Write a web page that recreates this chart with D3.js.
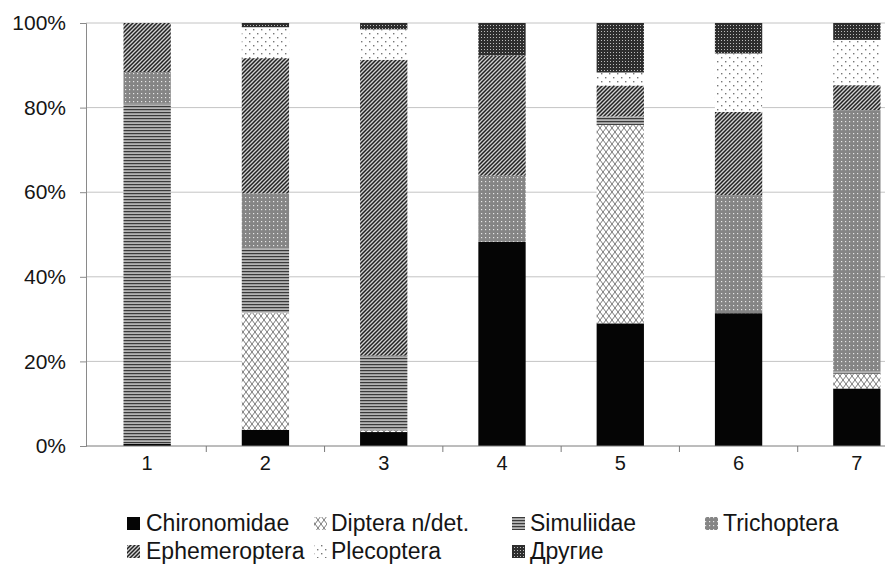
<!DOCTYPE html>
<html>
<head>
<meta charset="utf-8">
<script src="https://cdn.jsdelivr.net/npm/d3@7"></script>
<style>
  html, body { margin: 0; padding: 0; background: #fff; }
  svg { display: block; font-family: "Liberation Sans", Arial, sans-serif; }
</style>
</head>
<body>
<svg id="chart" width="885" height="569"></svg>
<script>
const categories = ["1", "2", "3", "4", "5", "6", "7"];
const seriesNames = ["Chironomidae", "Diptera n/det.", "Simuliidae", "Trichoptera", "Ephemeroptera", "Plecoptera", "Другие"];
const chironomidae  = [0.5, 3.8, 3.3, 48.3, 29.0, 31.4, 13.6];
const dipteraNdet   = [0, 27.7, 0.4, 0, 46.9, 0, 3.5];
const simuliidae    = [80.4, 15.2, 17.7, 0, 2.0, 0, 0.5];
const trichoptera   = [7.5, 13.0, 0, 15.6, 0, 27.9, 61.8];
const ephemeroptera = [11.6, 32.0, 69.9, 28.4, 7.3, 19.7, 5.9];
const plecoptera    = [0, 7.3, 7.2, 0, 3.1, 13.8, 10.7];
const drugie        = [0, 1.0, 1.5, 7.7, 11.7, 7.2, 4.0];
const yTicks = [0, 20, 40, 60, 80, 100];

const seriesValues = [chironomidae, dipteraNdet, simuliidae, trichoptera, ephemeroptera, plecoptera, drugie];
const table = categories.map((c, i) => {
  const row = { cat: c };
  seriesNames.forEach((s, j) => row[s] = seriesValues[j][i]);
  return row;
});

const svg = d3.select("#chart");
const defs = svg.append("defs");

// --- patterns ---
function pat(id, w, h, build) {
  const p = defs.append("pattern").attr("id", id).attr("patternUnits", "userSpaceOnUse")
    .attr("width", w).attr("height", h);
  build(p);
}
pat("p-chir", 4, 4, p => p.append("rect").attr("width", 4).attr("height", 4).attr("fill", "#050505"));
pat("p-dipt", 6, 8, p => {
  p.append("rect").attr("width", 6).attr("height", 8).attr("fill", "#fff");
  p.append("path").attr("d", "M0,0 L6,8 M6,0 L0,8").attr("stroke", "#7a7a7a").attr("stroke-width", 1).attr("fill", "none");
});
pat("p-simu", 4, 3, p => {
  p.append("rect").attr("width", 4).attr("height", 3).attr("fill", "#b4b4b4");
  p.append("rect").attr("y", 1).attr("width", 4).attr("height", 1.2).attr("fill", "#3a3a3a");
});
pat("p-tric", 4, 4, p => {
  p.append("rect").attr("width", 4).attr("height", 4).attr("fill", "#858585");
  p.append("rect").attr("x", 1).attr("y", 1).attr("width", 1.2).attr("height", 1.2).attr("fill", "#e6e6e6");
});
pat("p-ephe", 4, 4, p => {
  p.append("rect").attr("width", 4).attr("height", 4).attr("fill", "#d0d0d0");
  p.append("path").attr("d", "M-1,1 L1,-1 M0,4 L4,0 M3,5 L5,3").attr("stroke", "#222").attr("stroke-width", 1.5);
});
pat("p-plec", 8, 8, p => {
  p.append("rect").attr("width", 8).attr("height", 8).attr("fill", "#fff");
  p.append("rect").attr("x", 1).attr("y", 1).attr("width", 1.4).attr("height", 1.4).attr("fill", "#777");
  p.append("rect").attr("x", 5).attr("y", 5).attr("width", 1.4).attr("height", 1.4).attr("fill", "#777");
});
pat("p-drug", 3, 3, p => {
  p.append("rect").attr("width", 3).attr("height", 3).attr("fill", "#2e2e2e");
  p.append("rect").attr("x", 1).attr("y", 1).attr("width", 1).attr("height", 1).attr("fill", "#bdbdbd");
});
const fills = ["url(#p-chir)", "url(#p-dipt)", "url(#p-simu)", "url(#p-tric)", "url(#p-ephe)", "url(#p-plec)", "url(#p-drug)"];

// --- scales ---
const x = d3.scaleBand().domain(categories).range([88, 916]).paddingInner(0.6).paddingOuter(0.3);
const y = d3.scaleLinear().domain([0, 100]).range([446, 23]);

// grid
svg.append("g").selectAll("line").data(yTicks.filter(t => t > 0)).join("line")
  .attr("x1", 86).attr("x2", 885).attr("y1", d => y(d)).attr("y2", d => y(d))
  .attr("stroke", "#c4c4c4").attr("stroke-width", 1);

// bars
const stack = d3.stack().keys(seriesNames)(table);
svg.append("g").selectAll("g").data(stack).join("g")
  .attr("fill", (d, i) => fills[i])
  .selectAll("rect").data(d => d).join("rect")
  .attr("x", d => x(d.data.cat))
  .attr("width", x.bandwidth())
  .attr("y", d => y(d[1]))
  .attr("height", d => Math.max(0, y(d[0]) - y(d[1])));

// y axis
const yAxis = d3.axisLeft(y).tickValues(yTicks).tickFormat(d => d + "%").tickSize(6).tickPadding(14);
const gy = svg.append("g").attr("transform", "translate(86,0)").call(yAxis);
gy.select(".domain").attr("stroke", "#8a8a8a");
gy.selectAll(".tick line").attr("stroke", "#8a8a8a");
gy.selectAll(".tick text").attr("font-size", 21).attr("fill", "#151515")
  .attr("font-family", "Liberation Sans, Arial, sans-serif");

// x axis
const xAxis = d3.axisBottom(x).tickSize(0).tickPadding(10);
const gx = svg.append("g").attr("transform", "translate(0,446)").call(xAxis);
gx.select(".domain").remove();
gx.selectAll(".tick text").attr("font-size", 20).attr("fill", "#151515")
  .attr("font-family", "Liberation Sans, Arial, sans-serif");
svg.append("line").attr("x1", 86).attr("x2", 885).attr("y1", 446).attr("y2", 446).attr("stroke", "#7a7a7a");
svg.append("g").selectAll("line").data(categories.slice(1)).join("line")
  .attr("x1", d => x(d) - x.step() * x.paddingInner() / 2)
  .attr("x2", d => x(d) - x.step() * x.paddingInner() / 2)
  .attr("y1", 446).attr("y2", 452).attr("stroke", "#7a7a7a");

// legend
const legendPos = [
  { ix: 127, tx: 146, y: 523 }, { ix: 314, tx: 331, y: 523 }, { ix: 512, tx: 530, y: 523 }, { ix: 705, tx: 723, y: 523 },
  { ix: 127, tx: 146, y: 551 }, { ix: 314, tx: 331, y: 551 }, { ix: 512, tx: 530, y: 551 }
];
const lg = svg.append("g").selectAll("g").data(seriesNames).join("g");
lg.append("rect").attr("x", (d, i) => legendPos[i].ix).attr("y", (d, i) => legendPos[i].y - 6)
  .attr("width", 13).attr("height", 13).attr("fill", (d, i) => fills[i]);
lg.append("text").attr("x", (d, i) => legendPos[i].tx).attr("y", (d, i) => legendPos[i].y)
  .attr("dy", "0.36em").attr("font-size", 23).attr("fill", "#151515").text(d => d);
</script>
</body>
</html>
